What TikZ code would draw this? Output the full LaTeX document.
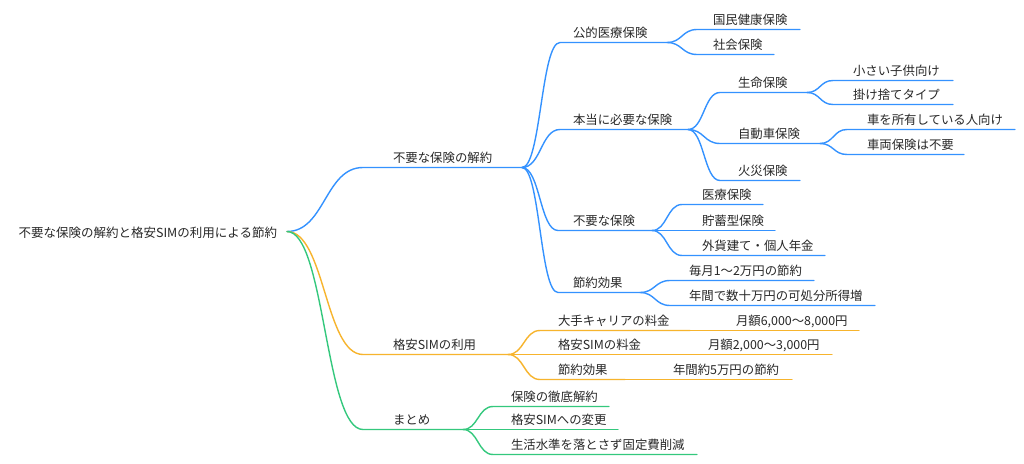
\documentclass[tikz,border=0pt]{standalone}
\usepackage{fontspec}
\setmainfont{Noto Sans CJK JP}
\usetikzlibrary{calc}
\definecolor{cblue}{RGB}{52,146,255}
\definecolor{corange}{RGB}{247,180,45}
\definecolor{cgreen}{RGB}{52,200,125}
\definecolor{textc}{RGB}{40,40,40}
\tikzset{
  lbl/.style={inner sep=0pt, outer sep=0pt, anchor=base west, text=textc, font=\fontsize{12.4}{14}\selectfont},
  bez/.style={to path={let \p1=(\tikztostart), \p2=(\tikztotarget) in .. controls ({0.5*\x1+0.5*\x2},\y1) and ({0.5*\x1+0.5*\x2},\y2) .. (\tikztotarget)}},
  conn/.style={line width=1.4pt, line cap=round},
}
\newcommand\mmitem[8]{%
  \coordinate (#1-s) at (#3,#5+0.5);
  \coordinate (#1-e) at (#4,#5+0.5);
  \node[lbl] (#1) at (#6,#5-5) {#8};
  \draw[conn,#7] (#2-e) to[bez] (#1-s) -- (#1-e);
}
\begin{document}
\begin{tikzpicture}[x=1pt,y=-1pt]
\useasboundingbox[fill=white] (0,0) rectangle (1024,463);
% root
\coordinate (root-e) at (287,231.5);
\node[lbl, anchor=base east, font=\fontsize{12.5}{15}\selectfont] (root) at (277,237) {不要な保険の解約と格安SIMの利用による節約};
% level 1
\mmitem{b1}{root}{363}{522}{167}{393}{cblue}{不要な保険の解約}
\mmitem{o1}{root}{363}{508}{354}{393}{corange}{格安SIMの利用}
\mmitem{g1}{root}{363}{463}{429}{393}{cgreen}{まとめ}
% blue level 2
\mmitem{b11}{b1}{560}{667}{42}{573}{cblue}{公的医療保険}
\mmitem{b12}{b1}{560}{688}{129}{573}{cblue}{本当に必要な保険}
\mmitem{b13}{b1}{558}{652}{230}{573}{cblue}{不要な保険}
\mmitem{b14}{b1}{558}{640}{292}{573}{cblue}{節約効果}
% blue level 3
\mmitem{b111}{b11}{697}{800}{29}{713}{cblue}{国民健康保険}
\mmitem{b112}{b11}{697}{774}{54}{713}{cblue}{社会保険}
\mmitem{b121}{b12}{720}{807}{92}{738}{cblue}{生命保険}
\mmitem{b122}{b12}{720}{820}{143}{738}{cblue}{自動車保険}
\mmitem{b123}{b12}{720}{800}{180}{738}{cblue}{火災保険}
\mmitem{b131}{b13}{682}{763}{204}{702}{cblue}{医療保険}
\mmitem{b132}{b13}{682}{775}{230}{702}{cblue}{貯蓄型保険}
\mmitem{b133}{b13}{682}{825}{255}{702}{cblue}{外貨建て・個人年金}
\mmitem{b141}{b14}{670}{814}{280}{689}{cblue}{毎月1〜2万円の節約}
\mmitem{b142}{b14}{670}{875}{305}{689}{cblue}{年間で数十万円の可処分所得増}
% blue level 4
\mmitem{b1211}{b121}{833}{953}{80}{853}{cblue}{小さい子供向け}
\mmitem{b1212}{b121}{833}{953}{104}{853}{cblue}{掛け捨てタイプ}
\mmitem{b1221}{b122}{847}{1015}{129}{867}{cblue}{車を所有している人向け}
\mmitem{b1222}{b122}{847}{964}{154}{867}{cblue}{車両保険は不要}
% orange level 2
\mmitem{o11}{o1}{540}{690}{330}{558}{corange}{大手キャリアの料金}
\mmitem{o12}{o1}{540}{660}{354}{558}{corange}{格安SIMの料金}
\mmitem{o13}{o1}{540}{625}{379}{558}{corange}{節約効果}
% orange level 3
\mmitem{o111}{o11}{720}{859}{330}{736}{corange}{月額6,000〜8,000円}
\mmitem{o121}{o12}{690}{832}{354}{708}{corange}{月額2,000〜3,000円}
\mmitem{o131}{o13}{655}{792}{379}{673}{corange}{年間約5万円の節約}
% green level 2
\mmitem{g11}{g1}{493}{609}{406}{511}{cgreen}{保険の徹底解約}
\mmitem{g12}{g1}{493}{618}{429}{511}{cgreen}{格安SIMへの変更}
\mmitem{g13}{g1}{493}{697}{454}{511}{cgreen}{生活水準を落とさず固定費削減}
\end{tikzpicture}
\end{document}
